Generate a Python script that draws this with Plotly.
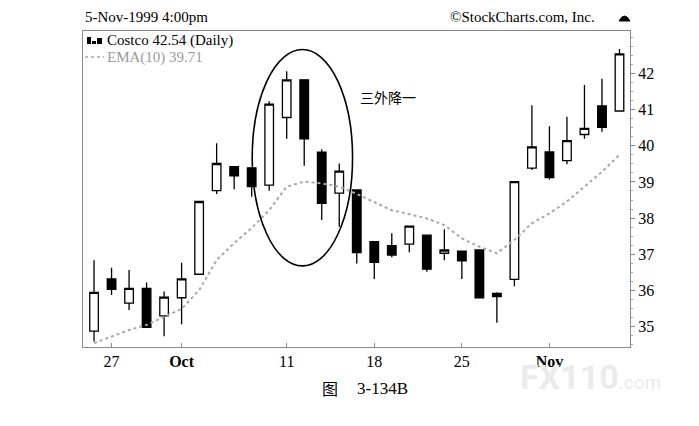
import plotly.graph_objects as go

dates = ["1999-09-24", "1999-09-27", "1999-09-28", "1999-09-29", "1999-09-30",
         "1999-10-01", "1999-10-04", "1999-10-05", "1999-10-06", "1999-10-07", "1999-10-08",
         "1999-10-11", "1999-10-12", "1999-10-13", "1999-10-14", "1999-10-15",
         "1999-10-18", "1999-10-19", "1999-10-20", "1999-10-21", "1999-10-22",
         "1999-10-25", "1999-10-26", "1999-10-27", "1999-10-28", "1999-10-29",
         "1999-11-01", "1999-11-02", "1999-11-03", "1999-11-04", "1999-11-05"]
opens = [34.88, 36.32, 35.65, 36.06, 35.30, 35.80, 36.45, 38.76, 39.42, 39.39, 38.91,
         40.78, 41.82, 39.82, 38.69, 38.78, 37.35, 37.24, 37.28, 37.53, 37.03,
         37.09, 37.12, 35.92, 36.31, 39.38, 39.83, 39.59, 40.31, 41.10, 40.96]
highs = [36.84, 36.63, 36.57, 36.22, 35.97, 36.77, 38.46, 40.07, 39.42, 39.40, 41.23,
         42.06, 41.82, 39.90, 39.51, 38.78, 37.35, 37.58, 37.78, 37.53, 37.69,
         37.09, 37.12, 35.95, 39.01, 41.12, 40.54, 40.80, 41.68, 41.85, 42.67]
lows = [34.59, 35.88, 35.46, 34.97, 34.74, 35.07, 36.45, 38.67, 38.80, 38.59, 38.76,
        40.19, 39.45, 37.95, 37.76, 36.75, 36.32, 36.92, 37.06, 36.52, 36.84,
        36.32, 35.80, 35.11, 36.12, 39.33, 39.07, 39.49, 40.19, 40.39, 40.96]
closes = [35.95, 36.03, 36.06, 34.98, 35.82, 36.32, 38.46, 39.51, 39.17, 38.87, 41.15,
          41.82, 40.19, 38.41, 39.30, 37.05, 36.78, 36.98, 37.78, 36.59, 37.12,
          36.82, 35.80, 35.83, 39.01, 39.97, 39.12, 40.14, 40.48, 40.51, 42.54]
ema10 = [34.55, 34.72, 34.91, 35.05, 35.28, 35.49, 36.01, 36.84, 37.31, 37.73, 38.22,
         38.87, 39.01, 38.96, 38.87, 38.67, 38.44, 38.22, 38.11, 37.99, 37.81,
         37.44, 37.21, 37.03, 37.40, 37.86, 38.13, 38.46, 38.87, 39.28, 39.75]

tick_dates = ["1999-09-27", "1999-10-01", "1999-10-11", "1999-10-18", "1999-10-25", "1999-11-01"]
tick_text = ["27", "<b>Oct</b>", "11", "18", "25", "<b>Nov</b>"]
y_ticks = [35, 36, 37, 38, 39, 40, 41, 42]

SERIF = "Liberation Serif, Times New Roman, serif"

fig = go.Figure()
fig.add_trace(go.Scatter(
    x=dates, y=ema10, mode="lines",
    line=dict(color="#a8a8a8", width=2, dash="dot"),
    hoverinfo="skip", showlegend=False))
fig.add_trace(go.Candlestick(
    x=dates, open=opens, high=highs, low=lows, close=closes,
    increasing=dict(line=dict(color="black", width=1.3), fillcolor="white"),
    decreasing=dict(line=dict(color="black", width=1.3), fillcolor="black"),
    whiskerwidth=0, showlegend=False))

L, R, T, B = 83, 630, 31, 347
W, H = 699, 426

def px(x):
    return (x - L) / (R - L)

def py(y):
    return (B - y) / (B - T)

shapes = [
    dict(type="circle", xref="x", yref="y", x0=9.03, x1=14.76, y0=36.68, y1=42.66,
         line=dict(color="black", width=1.6)),
    dict(type="line", xref="paper", yref="paper", x0=px(85), x1=px(104), y0=py(57), y1=py(57),
         line=dict(color="#a8a8a8", width=1.5, dash="dot")),
    dict(type="rect", xref="paper", yref="paper", x0=px(87), x1=px(91), y0=py(44), y1=py(37),
         fillcolor="black", line=dict(width=0)),
    dict(type="rect", xref="paper", yref="paper", x0=px(92), x1=px(96), y0=py(44), y1=py(41),
         fillcolor="black", line=dict(width=0)),
    dict(type="rect", xref="paper", yref="paper", x0=px(97), x1=px(102), y0=py(44), y1=py(38),
         fillcolor="black", line=dict(width=0)),
    dict(type="path", xref="paper", yref="paper",
         path=f"M {px(619)},{py(21)} Q {px(624.5)},{py(11)} {px(630)},{py(21)} Z",
         fillcolor="black", line=dict(color="black", width=1)),
]

annotations = [
    dict(text="5-Nov-1999 4:00pm", xref="paper", yref="paper", x=px(83), y=py(17),
         xanchor="left", yanchor="middle", showarrow=False,
         font=dict(family=SERIF, size=15, color="black")),
    dict(text="©StockCharts.com, Inc.", xref="paper", yref="paper", x=px(597), y=py(17),
         xanchor="right", yanchor="middle", showarrow=False,
         font=dict(family=SERIF, size=15, color="black")),
    dict(text="Costco 42.54 (Daily)", xref="paper", yref="paper", x=px(105), y=py(40),
         xanchor="left", yanchor="middle", showarrow=False,
         font=dict(family=SERIF, size=15, color="black")),
    dict(text="EMA(10) 39.71", xref="paper", yref="paper", x=px(105), y=py(57),
         xanchor="left", yanchor="middle", showarrow=False,
         font=dict(family=SERIF, size=15, color="#9a9a9a")),
    dict(text="三外降一", xref="x", yref="y", x=16.78, y=41.35,
         xanchor="center", yanchor="middle", showarrow=False,
         font=dict(family="Noto Sans CJK SC", size=14, color="black")),
    dict(text="图", xref="paper", yref="paper", x=px(330), y=py(388),
         xanchor="center", yanchor="middle", showarrow=False,
         font=dict(family="Noto Sans CJK SC", size=16, color="black")),
    dict(text="3-134B", xref="paper", yref="paper", x=px(355), y=py(388),
         xanchor="left", yanchor="middle", showarrow=False,
         font=dict(family=SERIF, size=17, color="black")),
    dict(text="<b>FX110</b><span style='font-size:19px'>.com</span>", xref="paper", yref="paper",
         x=px(518), y=py(377), xanchor="left", yanchor="middle", showarrow=False,
         font=dict(family="Roboto, Arial, sans-serif", size=34, color="#ebebeb")),
]

fig.update_layout(
    width=W, height=H,
    margin=dict(l=L, r=W - R, t=T, b=H - B),
    paper_bgcolor="white", plot_bgcolor="white",
    showlegend=False,
    shapes=shapes, annotations=annotations,
    xaxis=dict(
        type="category", range=[-0.63, 30.6],
        rangeslider=dict(visible=False),
        tickmode="array", tickvals=tick_dates, ticktext=tick_text,
        ticks="inside", ticklen=4, tickcolor="#888",
        showgrid=False, zeroline=False,
        showline=True, linecolor="#8a8a8a", linewidth=1, mirror=True,
        tickfont=dict(family=SERIF, size=16, color="black"),
    ),
    yaxis=dict(
        side="right", range=[34.44, 43.17],
        tickmode="array", tickvals=y_ticks,
        ticks="outside", ticklen=4, tickcolor="#888",
        minor=dict(dtick=0.25, ticks="outside", ticklen=2, tickcolor="#aaa"),
        showgrid=False, zeroline=False,
        showline=True, linecolor="#8a8a8a", linewidth=1, mirror=True,
        tickfont=dict(family=SERIF, size=16, color="black"),
    ),
)

fig.write_html("out.html", config={"displayModeBar": False},
               post_script="document.body.style.margin='0';")
